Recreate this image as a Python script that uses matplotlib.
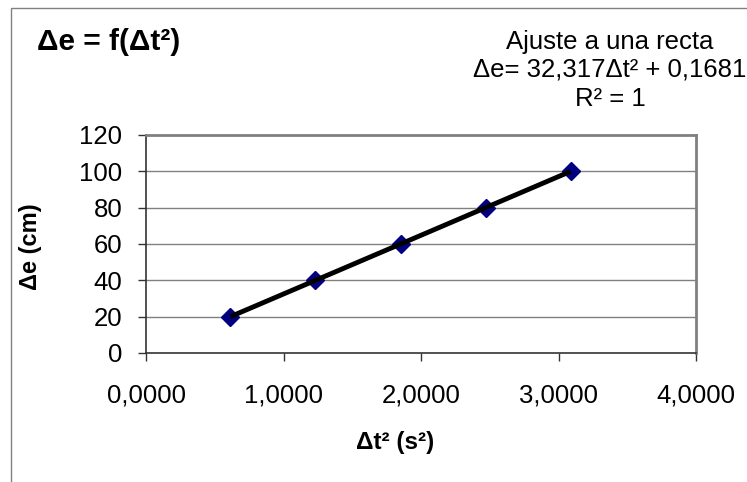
import matplotlib
matplotlib.use("Agg")
import matplotlib.pyplot as plt
from matplotlib.patches import Rectangle

plt.rcParams['font.family'] = ['Liberation Sans', 'DejaVu Sans']

dt2 = [0.6137, 1.2325, 1.8514, 2.4702, 3.0891]
de = [20, 40, 60, 80, 100]
x_ticks = [0, 1, 2, 3, 4]
x_tick_labels = ["0,0000", "1,0000", "2,0000", "3,0000", "4,0000"]
y_ticks = [0, 20, 40, 60, 80, 100, 120]

W, H = 747, 482
fig = plt.figure(figsize=(W / 100, H / 100), dpi=100)
fig.patch.set_facecolor('white')

# outer chart border (only top and left visible)
fig.patches.append(Rectangle((11 / W, -0.1), 1.2, 1 - 7.5 / H + 0.1, transform=fig.transFigure,
                             fill=False, edgecolor='#808080', linewidth=1.0))

ax = fig.add_axes([146 / W, 1 - 353 / H, 550 / W, 218 / H])
ax.set_xlim(0, 4)
ax.set_ylim(0, 120)
ax.set_xticks(x_ticks)
ax.set_xticklabels(x_tick_labels)
ax.set_yticks(y_ticks)
for y in y_ticks[1:-1]:
    ax.axhline(y, color='#808080', linewidth=1.0, zorder=1)

for s in ['top', 'right']:
    ax.spines[s].set_color('#808080')
    ax.spines[s].set_linewidth(2.0)
for s in ['left', 'bottom']:
    ax.spines[s].set_color('#333333')
    ax.spines[s].set_linewidth(1.2)

ax.tick_params(axis='both', direction='out', length=6, width=1, color='#333333',
               labelsize=18.5, labelcolor='black')
ax.tick_params(axis='y', pad=11)
ax.tick_params(axis='x', pad=16)

ax.plot(dt2, de, linestyle='none', marker='D', markersize=9, color='#000080', zorder=3)
ax.plot(dt2, de, color='black', linewidth=3.5, zorder=4, solid_capstyle='butt')

ax.set_xlabel("Δt² (s²)", fontsize=17.5, fontweight='bold')
ax.xaxis.set_label_coords((395 - 146) / 550, (353 - 443) / 218)
ax.xaxis.label.set_va('center')
ax.set_ylabel("Δe (cm)", fontsize=17, fontweight='bold')
ax.yaxis.set_label_coords((30 - 146) / 550, (353 - 247) / 218)
ax.yaxis.label.set_va('center')

fig.text(37 / W, 1 - 42 / H, "Δe = f(Δt²)", fontsize=21.5, fontweight='bold', ha='left', va='center')
fig.text(610 / W, 1 - 42 / H, "Ajuste a una recta", fontsize=18.5, ha='center', va='center')
fig.text(610 / W, 1 - 70 / H, "Δe= 32,317Δt² + 0,1681", fontsize=18.5, ha='center', va='center')
fig.text(610 / W, 1 - 99 / H, "R² = 1", fontsize=18.5, ha='center', va='center')

fig.savefig("out.png", dpi=100)
